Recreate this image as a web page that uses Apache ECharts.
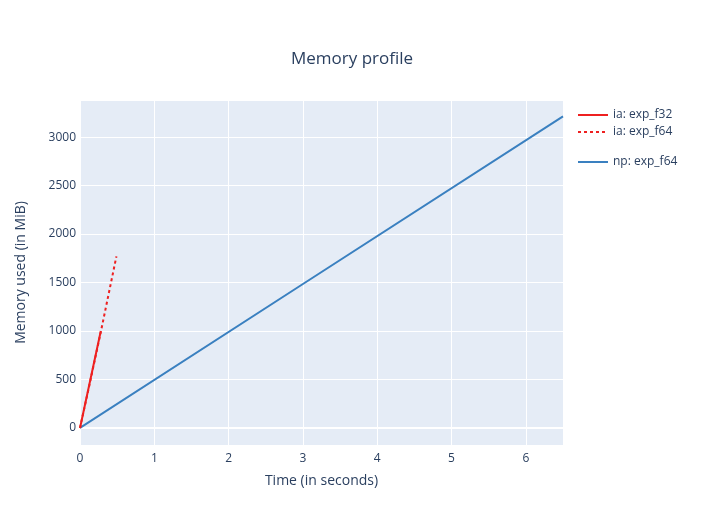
<!DOCTYPE html>
<html>
<head>
<meta charset="utf-8">
<script src="https://cdn.jsdelivr.net/npm/echarts@6/dist/echarts.min.js"></script>
<style>
html, body { margin:0; padding:0; background:#fff; }
#main { width:704px; height:525px; }
</style>
</head>
<body>
<div id="main"></div>
<script>
// data (time in s, memory in MiB)
var ia_f32 = [[0, 0], [0.14, 500], [0.28, 1000]];
var ia_f64 = [[0, 0], [0.14, 490], [0.28, 990], [0.49, 1770]];
var np_f64 = [[0, 0], [3, 1485], [6.5, 3215]];
var seriesNames = ['ia: exp_f32', 'ia: exp_f64', 'np: exp_f64'];

var textColor = '#2a3f5f';
var font = '"Open Sans", Verdana, Arial, sans-serif';

var legendBase = {
    orient: 'vertical',
    left: 572,
    itemWidth: 30,
    itemHeight: 12,
    itemGap: 5,
    itemStyle: { opacity: 0 },
    textStyle: { fontFamily: font, fontSize: 12, color: textColor }
};

var chart = echarts.init(document.getElementById('main'));
var option = {
    backgroundColor: '#fff',
    textStyle: { fontFamily: font, color: textColor },
    title: {
        text: 'Memory profile',
        left: 'center',
        top: 46,
        textStyle: { fontFamily: font, fontSize: 17, fontWeight: 'normal', color: textColor }
    },
    legend: [
        Object.assign({}, legendBase, { data: [seriesNames[0], seriesNames[1]], top: 104 }),
        Object.assign({}, legendBase, { data: [seriesNames[2]], top: 151 })
    ],
    grid: {
        left: 80,
        right: 141,
        top: 100,
        bottom: 80,
        show: true,
        backgroundColor: '#E5ECF6',
        borderWidth: 0
    },
    xAxis: {
        type: 'value',
        min: 0,
        max: 6.5,
        interval: 1,
        name: 'Time (in seconds)',
        nameLocation: 'middle',
        nameGap: 29,
        nameTextStyle: { fontFamily: font, fontSize: 14, color: textColor },
        axisLine: { show: true, onZero: true, lineStyle: { color: '#fff', width: 2 } },
        axisTick: { show: false },
        axisLabel: { fontFamily: font, fontSize: 12, color: textColor, margin: 8, showMaxLabel: false },
        splitLine: { show: true, lineStyle: { color: '#fff', width: 1 } }
    },
    yAxis: {
        type: 'value',
        min: -176,
        max: 3383,
        splitNumber: 7,
        minInterval: 500,
        maxInterval: 500,
        name: 'Memory used (in MiB)',
        nameLocation: 'middle',
        nameGap: 52,
        nameTextStyle: { fontFamily: font, fontSize: 14, color: textColor },
        axisLine: { show: true, lineStyle: { color: '#fff', width: 2 } },
        axisTick: { show: false },
        axisLabel: {
            fontFamily: font, fontSize: 12, color: textColor, margin: 4,
            showMinLabel: false, showMaxLabel: false,
            formatter: function (v) { return String(v); }
        },
        splitLine: { show: true, lineStyle: { color: '#fff', width: 1 } }
    },
    series: [
        {
            name: seriesNames[0],
            type: 'line',
            data: ia_f32,
            symbol: 'none',
            color: '#ee2020',
            lineStyle: { width: 2, color: '#ee2020' },
            z: 3
        },
        {
            name: seriesNames[1],
            type: 'line',
            data: ia_f64,
            symbol: 'none',
            color: '#ee2020',
            lineStyle: { width: 2, color: '#ee2020', type: [3, 3] },
            z: 4
        },
        {
            name: seriesNames[2],
            type: 'line',
            data: np_f64,
            symbol: 'none',
            color: '#3a80c0',
            lineStyle: { width: 2, color: '#3a80c0' },
            z: 2
        }
    ]
};
chart.setOption(option);
</script>
</body>
</html>
